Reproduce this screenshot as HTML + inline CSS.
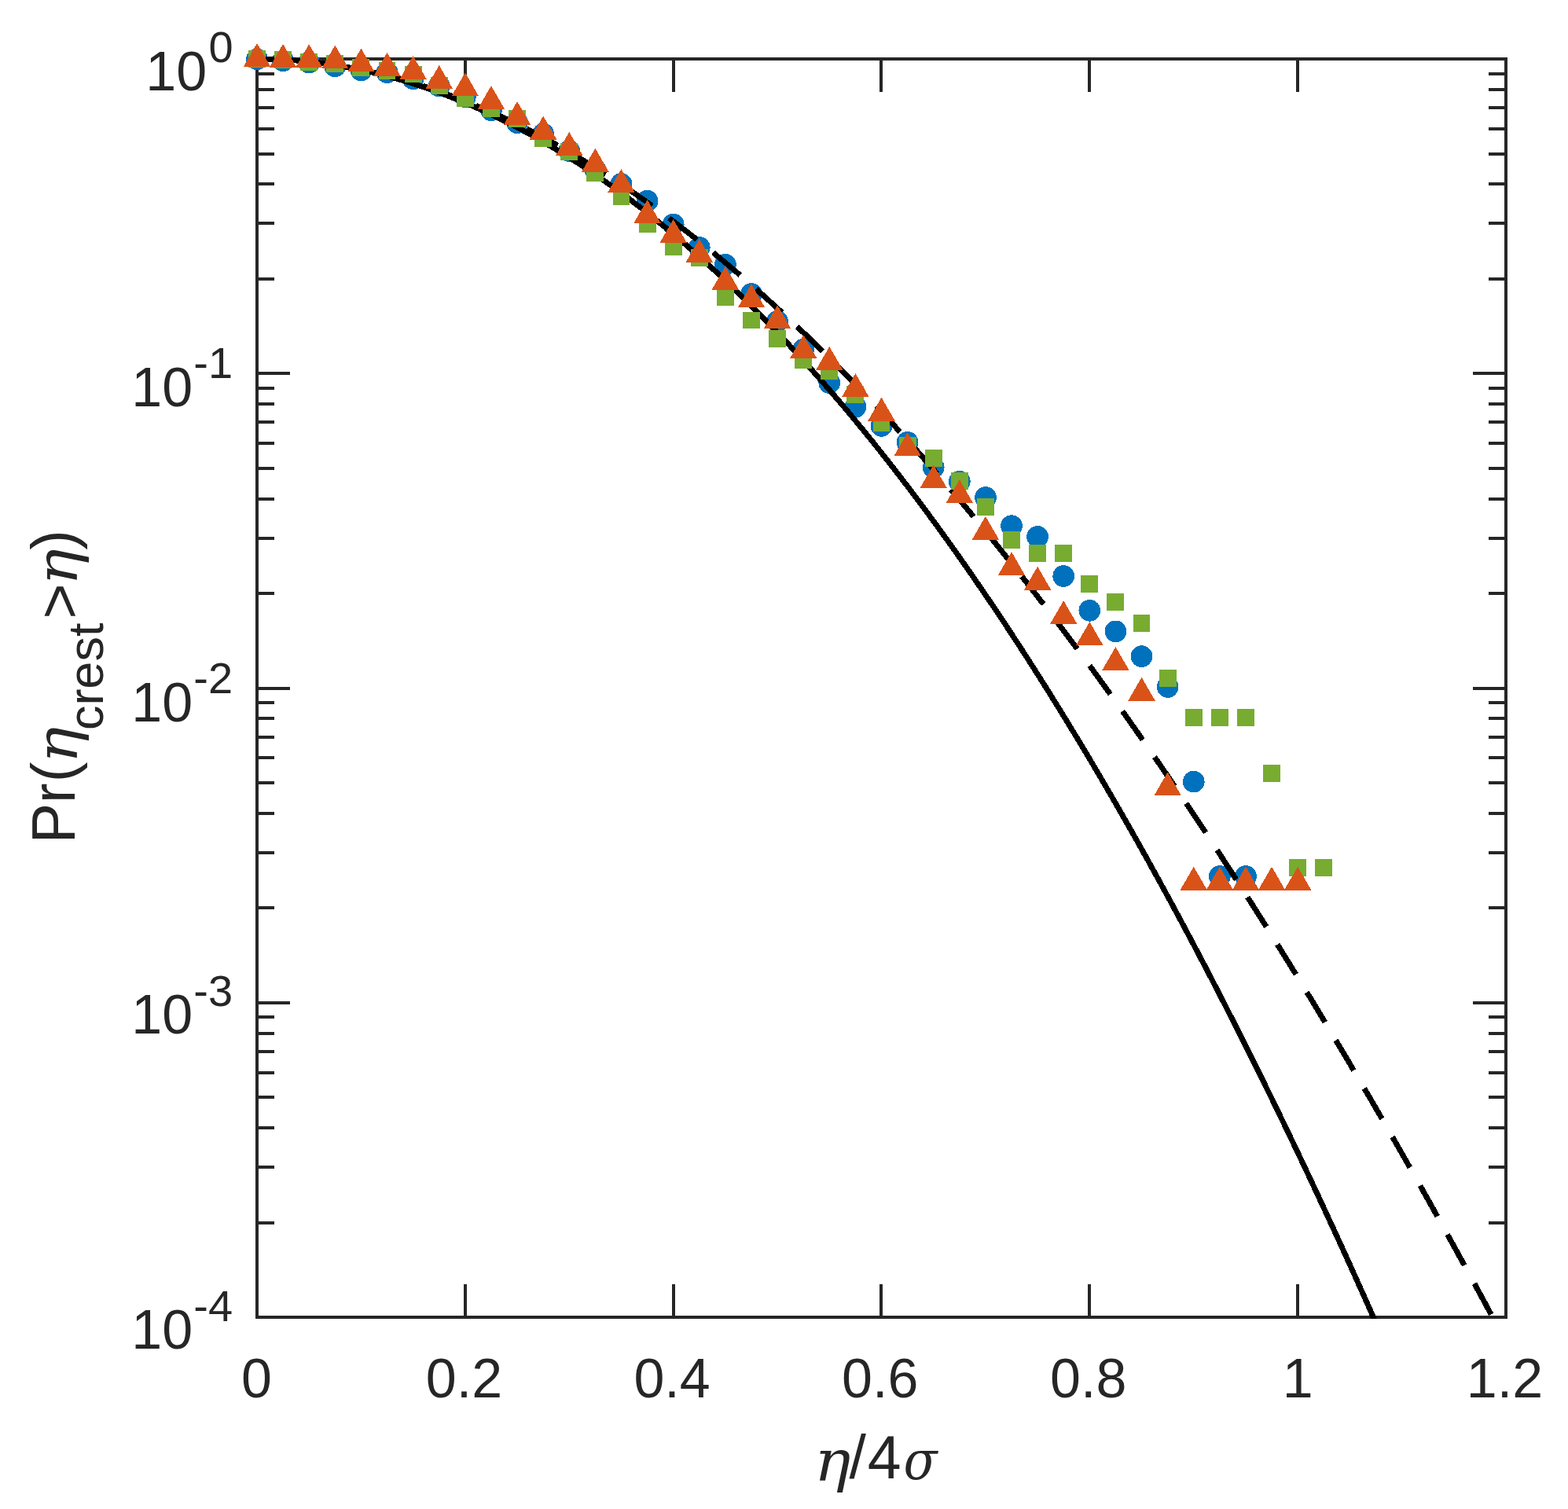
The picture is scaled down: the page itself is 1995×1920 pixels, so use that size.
<!DOCTYPE html>
<html lang="en"><head><meta charset="utf-8"><title>Crest exceedance probability</title>
<style>html,body{margin:0;padding:0;background:#fff}body{width:1995px;height:1920px;overflow:hidden}svg{display:block}text{font-family:"Liberation Sans",sans-serif;fill:#262626}.g{font-family:"DejaVu Serif","Liberation Serif",serif;font-style:italic}</style>
</head><body>
<svg width="1995" height="1920" viewBox="0 0 1995 1920" role="img" aria-label="Crest exceedance probability plot">
<rect width="1995" height="1920" fill="#fff"/>
<defs><clipPath id="c"><rect x="323" y="71" width="1597" height="1607"/></clipPath></defs>
<g fill="none" stroke="#262626" stroke-width="4">
<path d="M592 1676v-42M592 75v42M857 1676v-42M857 75v42M1121 1676v-42M1121 75v42M1386 1676v-42M1386 75v42M1651 1676v-42M1651 75v42M327 475h42M1916 475h-42M327 355h22M1916 355h-22M327 284h22M1916 284h-22M327 234h22M1916 234h-22M327 196h22M1916 196h-22M327 164h22M1916 164h-22M327 137h22M1916 137h-22M327 114h22M1916 114h-22M327 94h22M1916 94h-22M327 876h42M1916 876h-42M327 755h22M1916 755h-22M327 685h22M1916 685h-22M327 635h22M1916 635h-22M327 596h22M1916 596h-22M327 564h22M1916 564h-22M327 537h22M1916 537h-22M327 514h22M1916 514h-22M327 494h22M1916 494h-22M327 1276h42M1916 1276h-42M327 1155h22M1916 1155h-22M327 1085h22M1916 1085h-22M327 1035h22M1916 1035h-22M327 996h22M1916 996h-22M327 964h22M1916 964h-22M327 938h22M1916 938h-22M327 914h22M1916 914h-22M327 894h22M1916 894h-22M327 1556h22M1916 1556h-22M327 1485h22M1916 1485h-22M327 1435h22M1916 1435h-22M327 1396h22M1916 1396h-22M327 1365h22M1916 1365h-22M327 1338h22M1916 1338h-22M327 1315h22M1916 1315h-22M327 1294h22M1916 1294h-22"/>
<rect x="327" y="75" width="1589" height="1601"/>
</g>
<g font-size="70" text-anchor="middle">
<text x="326.4" y="1778">0</text>
<text x="590.43" y="1778">0.2</text>
<text x="855.07" y="1778">0.4</text>
<text x="1119.7" y="1778">0.6</text>
<text x="1384.73" y="1778">0.8</text>
<text x="1651.27" y="1778">1</text>
<text x="1914.5" y="1778">1.2</text>
</g>
<text font-size="70" text-anchor="end" x="263.2" y="115">10<tspan font-size="56" text-anchor="start" x="265.6" y="79.4">0</tspan></text>
<text font-size="70" text-anchor="end" x="245.1" y="517.05">10<tspan font-size="56" text-anchor="start" x="246.3" y="481.45">-1</tspan></text>
<text font-size="70" text-anchor="end" x="245.1" y="918">10<tspan font-size="56" text-anchor="start" x="246.3" y="882.4">-2</tspan></text>
<text font-size="70" text-anchor="end" x="245.1" y="1315.2">10<tspan font-size="56" text-anchor="start" x="246.3" y="1279.6">-3</tspan></text>
<text font-size="70" text-anchor="end" x="245.1" y="1716.3">10<tspan font-size="56" text-anchor="start" x="246.3" y="1680.7">-4</tspan></text>
<text><tspan class="g" font-size="73" x="1036" y="1883.6" textLength="46.35" lengthAdjust="spacingAndGlyphs">η</tspan><tspan font-size="77" x="1080.5 1103.8" y="1881.1">/4</tspan><tspan class="g" font-size="70" x="1149.6" y="1882.4" textLength="43.03" lengthAdjust="spacingAndGlyphs">σ</tspan></text>
<text transform="translate(95 1066.7) rotate(-90)"><tspan font-size="77" x="-6.6 44.6 71.4" y="0">Pr(</tspan><tspan class="g" font-size="73" x="95.4" y="2.5" textLength="46.35" lengthAdjust="spacingAndGlyphs">η</tspan><tspan font-size="63" x="137.6" y="36.3">crest</tspan><tspan font-size="77" x="279.2" y="6.5">&gt;</tspan><tspan class="g" font-size="73" x="322" y="2.5" textLength="46.35" lengthAdjust="spacingAndGlyphs">η</tspan><tspan font-size="77" x="366.9" y="0">)</tspan></text>
<g fill="#0072BD" shape-rendering="crispEdges">
<circle cx="327" cy="75.3" r="13.85"/>
<circle cx="360.1" cy="77.3" r="13.85"/>
<circle cx="393.21" cy="79.6" r="13.85"/>
<circle cx="426.31" cy="84.3" r="13.85"/>
<circle cx="459.42" cy="89.4" r="13.85"/>
<circle cx="492.52" cy="92.2" r="13.85"/>
<circle cx="525.62" cy="100.3" r="13.85"/>
<circle cx="558.73" cy="109.5" r="13.85"/>
<circle cx="591.83" cy="123.3" r="13.85"/>
<circle cx="624.94" cy="140.3" r="13.85"/>
<circle cx="658.04" cy="156.2" r="13.85"/>
<circle cx="691.15" cy="170.3" r="13.85"/>
<circle cx="724.25" cy="192" r="13.85"/>
<circle cx="757.35" cy="215.7" r="13.85"/>
<circle cx="790.46" cy="234" r="13.85"/>
<circle cx="823.56" cy="255.6" r="13.85"/>
<circle cx="856.67" cy="285.5" r="13.85"/>
<circle cx="889.77" cy="314.9" r="13.85"/>
<circle cx="922.88" cy="336.7" r="13.85"/>
<circle cx="955.98" cy="373.9" r="13.85"/>
<circle cx="989.08" cy="409" r="13.85"/>
<circle cx="1022.19" cy="444.6" r="13.85"/>
<circle cx="1055.29" cy="487.2" r="13.85"/>
<circle cx="1088.4" cy="517.7" r="13.85"/>
<circle cx="1121.5" cy="541.9" r="13.85"/>
<circle cx="1154.6" cy="562.8" r="13.85"/>
<circle cx="1187.71" cy="594.8" r="13.85"/>
<circle cx="1220.81" cy="612.8" r="13.85"/>
<circle cx="1253.92" cy="633" r="13.85"/>
<circle cx="1287.02" cy="669.2" r="13.85"/>
<circle cx="1320.12" cy="682.9" r="13.85"/>
<circle cx="1353.23" cy="733" r="13.85"/>
<circle cx="1386.33" cy="776.8" r="13.85"/>
<circle cx="1419.44" cy="803.4" r="13.85"/>
<circle cx="1452.54" cy="835.1" r="13.85"/>
<circle cx="1485.65" cy="874" r="13.85"/>
<circle cx="1518.75" cy="994.6" r="13.85"/>
<circle cx="1551.85" cy="1115" r="13.85"/>
<circle cx="1584.96" cy="1115" r="13.85"/>
</g>
<g fill="none" stroke="#000" stroke-width="7" clip-path="url(#c)" shape-rendering="crispEdges">
<path d="M326.6 75L329.25 75.01L331.9 75.02L334.55 75.05L337.19 75.09L339.84 75.14L342.49 75.2L345.14 75.27L347.79 75.36L350.44 75.45L353.08 75.56L355.73 75.67L358.38 75.8L361.03 75.94L363.68 76.09L366.33 76.25L368.97 76.42L371.62 76.61L374.27 76.8L376.92 77.01L379.57 77.22L382.22 77.45L384.86 77.69L387.51 77.94L390.16 78.2L392.81 78.48L395.46 78.76L398.11 79.06L400.75 79.36L403.4 79.68L406.05 80.01L408.7 80.35L411.35 80.7L414 81.06L416.64 81.43L419.29 81.81L421.94 82.21L424.59 82.61L427.24 83.03L429.89 83.46L432.53 83.9L435.18 84.35L437.83 84.81L440.48 85.28L443.13 85.77L445.78 86.26L448.42 86.77L451.07 87.29L453.72 87.82L456.37 88.36L459.02 88.91L461.67 89.47L464.31 90.04L466.96 90.62L469.61 91.22L472.26 91.83L474.91 92.44L477.56 93.07L480.2 93.71L482.85 94.36L485.5 95.02L488.15 95.7L490.8 96.38L493.45 97.08L496.09 97.78L498.74 98.5L501.39 99.23L504.04 99.97L506.69 100.72L509.34 101.48L511.98 102.26L514.63 103.04L517.28 103.84L519.93 104.64L522.58 105.46L525.23 106.29L527.87 107.13L530.52 107.98L533.17 108.84L535.82 109.72L538.47 110.6L541.12 111.5L543.76 112.4L546.41 113.32L549.06 114.25L551.71 115.19L554.36 116.14L557 117.1L559.65 118.08L562.3 119.06L564.95 120.06L567.6 121.06L570.25 122.08L572.9 123.11L575.54 124.15L578.19 125.2L580.84 126.26L583.49 127.34L586.14 128.42L588.78 129.52L591.43 130.62L594.08 131.74L596.73 132.87L599.38 134.01L602.03 135.16L604.68 136.33L607.32 137.5L609.97 138.68L612.62 139.88L615.27 141.09L617.92 142.31L620.56 143.53L623.21 144.78L625.86 146.03L628.51 147.29L631.16 148.56L633.81 149.85L636.46 151.14L639.1 152.45L641.75 153.77L644.4 155.1L647.05 156.44L649.7 157.79L652.35 159.15L654.99 160.53L657.64 161.91L660.29 163.31L662.94 164.72L665.59 166.14L668.24 167.56L670.88 169.01L673.53 170.46L676.18 171.92L678.83 173.39L681.48 174.88L684.13 176.38L686.77 177.88L689.42 179.4L692.07 180.93L694.72 182.47L697.37 184.02L700.01 185.59L702.66 187.16L705.31 188.75L707.96 190.34L710.61 191.95L713.26 193.57L715.91 195.2L718.55 196.84L721.2 198.49L723.85 200.15L726.5 201.83L729.15 203.51L731.79 205.21L734.44 206.92L737.09 208.64L739.74 210.37L742.39 212.11L745.04 213.86L747.69 215.62L750.33 217.4L752.98 219.18L755.63 220.98L758.28 222.79L760.93 224.61L763.58 226.44L766.22 228.28L768.87 230.13L771.52 231.99L774.17 233.87L776.82 235.75L779.47 237.65L782.11 239.56L784.76 241.48L787.41 243.41L790.06 245.35L792.71 247.3L795.36 249.27L798 251.24L800.65 253.23L803.3 255.22L805.95 257.23L808.6 259.25L811.25 261.28L813.89 263.32L816.54 265.37L819.19 267.44L821.84 269.51L824.49 271.6L827.13 273.7L829.78 275.8L832.43 277.92L835.08 280.05L837.73 282.2L840.38 284.35L843.03 286.51L845.67 288.69L848.32 290.87L850.97 293.07L853.62 295.28L856.27 297.5L858.91 299.73L861.56 301.97L864.21 304.22L866.86 306.49L869.51 308.76L872.16 311.05L874.81 313.35L877.45 315.65L880.1 317.97L882.75 320.3L885.4 322.65L888.05 325L890.7 327.36L893.34 329.74L895.99 332.12L898.64 334.52L901.29 336.93L903.94 339.35L906.59 341.78L909.23 344.22L911.88 346.68L914.53 349.14L917.18 351.61L919.83 354.1L922.48 356.6L925.12 359.11L927.77 361.63L930.42 364.16L933.07 366.7L935.72 369.25L938.37 371.82L941.01 374.39L943.66 376.98L946.31 379.58L948.96 382.19L951.61 384.81L954.25 387.44L956.9 390.08L959.55 392.73L962.2 395.4L964.85 398.07L967.5 400.76L970.14 403.46L972.79 406.17L975.44 408.89L978.09 411.62L980.74 414.36L983.39 417.11L986.04 419.88L988.68 422.65L991.33 425.44L993.98 428.24L996.63 431.05L999.28 433.87L1001.93 436.7L1004.57 439.54L1007.22 442.39L1009.87 445.26L1012.52 448.13L1015.17 451.02L1017.82 453.92L1020.46 456.83L1023.11 459.75L1025.76 462.68L1028.41 465.62L1031.06 468.58L1033.7 471.54L1036.35 474.52L1039 477.5L1041.65 480.5L1044.3 483.51L1046.95 486.53L1049.59 489.56L1052.24 492.61L1054.89 495.66L1057.54 498.72L1060.19 501.8L1062.84 504.89L1065.49 507.99L1068.13 511.1L1070.78 514.22L1073.43 517.35L1076.08 520.49L1078.73 523.64L1081.38 526.81L1084.02 529.99L1086.67 533.17L1089.32 536.37L1091.97 539.58L1094.62 542.8L1097.26 546.03L1099.91 549.28L1102.56 552.53L1105.21 555.8L1107.86 559.07L1110.51 562.36L1113.15 565.66L1115.8 568.97L1118.45 572.29L1121.1 575.62L1123.75 578.96L1126.4 582.32L1129.05 585.68L1131.69 589.06L1134.34 592.45L1136.99 595.84L1139.64 599.25L1142.29 602.68L1144.93 606.11L1147.58 609.55L1150.23 613.01L1152.88 616.47L1155.53 619.95L1158.18 623.43L1160.82 626.93L1163.47 630.44L1166.12 633.96L1168.77 637.5L1171.42 641.04L1174.07 644.59L1176.72 648.16L1179.36 651.74L1182.01 655.32L1184.66 658.92L1187.31 662.53L1189.96 666.15L1192.6 669.79L1195.25 673.43L1197.9 677.08L1200.55 680.75L1203.2 684.43L1205.85 688.11L1208.49 691.81L1211.14 695.52L1213.79 699.25L1216.44 702.98L1219.09 706.72L1221.74 710.48L1224.38 714.24L1227.03 718.02L1229.68 721.81L1232.33 725.61L1234.98 729.42L1237.63 733.24L1240.27 737.07L1242.92 740.91L1245.57 744.77L1248.22 748.63L1250.87 752.51L1253.52 756.4L1256.16 760.3L1258.81 764.21L1261.46 768.13L1264.11 772.06L1266.76 776.01L1269.41 779.96L1272.05 783.93L1274.7 787.91L1277.35 791.89L1280 795.89L1282.65 799.9L1285.3 803.92L1287.94 807.96L1290.59 812L1293.24 816.06L1295.89 820.12L1298.54 824.2L1301.19 828.29L1303.84 832.39L1306.48 836.5L1309.13 840.62L1311.78 844.75L1314.43 848.9L1317.08 853.05L1319.72 857.22L1322.37 861.4L1325.02 865.58L1327.67 869.78L1330.32 873.99L1332.97 878.22L1335.62 882.45L1338.26 886.69L1340.91 890.95L1343.56 895.22L1346.21 899.49L1348.86 903.78L1351.5 908.08L1354.15 912.39L1356.8 916.71L1359.45 921.05L1362.1 925.39L1364.75 929.75L1367.39 934.11L1370.04 938.49L1372.69 942.88L1375.34 947.28L1377.99 951.69L1380.64 956.11L1383.28 960.55L1385.93 964.99L1388.58 969.45L1391.23 973.91L1393.88 978.39L1396.53 982.88L1399.17 987.38L1401.82 991.89L1404.47 996.41L1407.12 1000.95L1409.77 1005.49L1412.42 1010.05L1415.06 1014.61L1417.71 1019.19L1420.36 1023.78L1423.01 1028.38L1425.66 1032.99L1428.31 1037.61L1430.95 1042.25L1433.6 1046.89L1436.25 1051.55L1438.9 1056.22L1441.55 1060.89L1444.2 1065.58L1446.85 1070.28L1449.49 1074.99L1452.14 1079.72L1454.79 1084.45L1457.44 1089.19L1460.09 1093.95L1462.73 1098.72L1465.38 1103.5L1468.03 1108.29L1470.68 1113.09L1473.33 1117.9L1475.98 1122.72L1478.62 1127.55L1481.27 1132.4L1483.92 1137.25L1486.57 1142.12L1489.22 1147L1491.87 1151.89L1494.51 1156.79L1497.16 1161.7L1499.81 1166.62L1502.46 1171.56L1505.11 1176.5L1507.76 1181.46L1510.4 1186.43L1513.05 1191.4L1515.7 1196.39L1518.35 1201.39L1521 1206.41L1523.65 1211.43L1526.3 1216.46L1528.94 1221.51L1531.59 1226.56L1534.24 1231.63L1536.89 1236.71L1539.54 1241.8L1542.18 1246.9L1544.83 1252.01L1547.48 1257.14L1550.13 1262.27L1552.78 1267.42L1555.43 1272.57L1558.08 1277.74L1560.72 1282.92L1563.37 1288.11L1566.02 1293.31L1568.67 1298.52L1571.32 1303.74L1573.96 1308.98L1576.61 1314.22L1579.26 1319.48L1581.91 1324.75L1584.56 1330.03L1587.21 1335.32L1589.86 1340.62L1592.5 1345.93L1595.15 1351.25L1597.8 1356.59L1600.45 1361.93L1603.1 1367.29L1605.75 1372.66L1608.39 1378.04L1611.04 1383.43L1613.69 1388.83L1616.34 1394.24L1618.99 1399.66L1621.63 1405.1L1624.28 1410.54L1626.93 1416L1629.58 1421.47L1632.23 1426.95L1634.88 1432.44L1637.52 1437.94L1640.17 1443.45L1642.82 1448.97L1645.47 1454.51L1648.12 1460.05L1650.77 1465.61L1653.41 1471.18L1656.06 1476.76L1658.71 1482.35L1661.36 1487.95L1664.01 1493.56L1666.66 1499.19L1669.31 1504.82L1671.95 1510.47L1674.6 1516.12L1677.25 1521.79L1679.9 1527.47L1682.55 1533.16L1685.19 1538.86L1687.84 1544.58L1690.49 1550.3L1693.14 1556.03L1695.79 1561.78L1698.44 1567.54L1701.09 1573.31L1703.73 1579.08L1706.38 1584.88L1709.03 1590.68L1711.68 1596.49L1714.33 1602.31L1716.98 1608.15L1719.62 1613.99L1722.27 1619.85L1724.92 1625.72L1727.57 1631.6L1730.22 1637.49L1732.86 1643.39L1735.51 1649.31L1738.16 1655.23L1740.81 1661.16L1743.46 1667.11L1746.11 1673.07L1748.76 1679.04L1751.4 1685.02L1754.05 1691.01L1756.7 1697.01L1759.35 1703.02L1762 1709.05L1764.64 1715.08L1767.29 1721.13L1769.94 1727.18L1772.59 1733.25"/>
<path stroke-dasharray="44.7 26.6" stroke-dashoffset="-1.7" d="M326.6 75L329.25 75.01L331.9 75.02L334.55 75.05L337.19 75.09L339.84 75.14L342.49 75.2L345.14 75.27L347.79 75.35L350.44 75.45L353.08 75.55L355.73 75.67L358.38 75.8L361.03 75.94L363.68 76.08L366.33 76.24L368.97 76.41L371.62 76.6L374.27 76.79L376.92 76.99L379.57 77.21L382.22 77.43L384.86 77.67L387.51 77.92L390.16 78.17L392.81 78.44L395.46 78.72L398.11 79.01L400.75 79.31L403.4 79.62L406.05 79.95L408.7 80.28L411.35 80.62L414 80.98L416.64 81.34L419.29 81.72L421.94 82.11L424.59 82.5L427.24 82.91L429.89 83.33L432.53 83.76L435.18 84.2L437.83 84.65L440.48 85.11L443.13 85.58L445.78 86.07L448.42 86.56L451.07 87.06L453.72 87.58L456.37 88.1L459.02 88.64L461.67 89.18L464.31 89.74L466.96 90.3L469.61 90.88L472.26 91.47L474.91 92.07L477.56 92.67L480.2 93.29L482.85 93.92L485.5 94.56L488.15 95.21L490.8 95.87L493.45 96.54L496.09 97.22L498.74 97.91L501.39 98.61L504.04 99.33L506.69 100.05L509.34 100.78L511.98 101.52L514.63 102.27L517.28 103.04L519.93 103.81L522.58 104.59L525.23 105.39L527.87 106.19L530.52 107.01L533.17 107.83L535.82 108.66L538.47 109.51L541.12 110.36L543.76 111.23L546.41 112.1L549.06 112.99L551.71 113.88L554.36 114.79L557 115.7L559.65 116.63L562.3 117.57L564.95 118.51L567.6 119.47L570.25 120.43L572.9 121.41L575.54 122.39L578.19 123.39L580.84 124.39L583.49 125.41L586.14 126.43L588.78 127.47L591.43 128.51L594.08 129.57L596.73 130.64L599.38 131.71L602.03 132.79L604.68 133.89L607.32 134.99L609.97 136.11L612.62 137.23L615.27 138.37L617.92 139.51L620.56 140.66L623.21 141.83L625.86 143L628.51 144.18L631.16 145.38L633.81 146.58L636.46 147.79L639.1 149.01L641.75 150.25L644.4 151.49L647.05 152.74L649.7 154L652.35 155.27L654.99 156.55L657.64 157.84L660.29 159.14L662.94 160.45L665.59 161.77L668.24 163.1L670.88 164.43L673.53 165.78L676.18 167.14L678.83 168.51L681.48 169.88L684.13 171.27L686.77 172.66L689.42 174.07L692.07 175.48L694.72 176.91L697.37 178.34L700.01 179.78L702.66 181.24L705.31 182.7L707.96 184.17L710.61 185.65L713.26 187.14L715.91 188.64L718.55 190.15L721.2 191.67L723.85 193.2L726.5 194.74L729.15 196.28L731.79 197.84L734.44 199.4L737.09 200.98L739.74 202.56L742.39 204.16L745.04 205.76L747.69 207.37L750.33 208.99L752.98 210.62L755.63 212.26L758.28 213.91L760.93 215.57L763.58 217.24L766.22 218.92L768.87 220.6L771.52 222.3L774.17 224L776.82 225.72L779.47 227.44L782.11 229.17L784.76 230.92L787.41 232.67L790.06 234.43L792.71 236.2L795.36 237.97L798 239.76L800.65 241.56L803.3 243.36L805.95 245.18L808.6 247L811.25 248.83L813.89 250.68L816.54 252.53L819.19 254.39L821.84 256.26L824.49 258.13L827.13 260.02L829.78 261.92L832.43 263.82L835.08 265.74L837.73 267.66L840.38 269.59L843.03 271.53L845.67 273.48L848.32 275.44L850.97 277.41L853.62 279.39L856.27 281.37L858.91 283.37L861.56 285.37L864.21 287.38L866.86 289.41L869.51 291.44L872.16 293.48L874.81 295.52L877.45 297.58L880.1 299.65L882.75 301.72L885.4 303.8L888.05 305.9L890.7 308L893.34 310.11L895.99 312.23L898.64 314.35L901.29 316.49L903.94 318.63L906.59 320.79L909.23 322.95L911.88 325.12L914.53 327.3L917.18 329.49L919.83 331.69L922.48 333.89L925.12 336.11L927.77 338.33L930.42 340.56L933.07 342.8L935.72 345.05L938.37 347.31L941.01 349.58L943.66 351.85L946.31 354.14L948.96 356.43L951.61 358.73L954.25 361.04L956.9 363.36L959.55 365.68L962.2 368.02L964.85 370.36L967.5 372.72L970.14 375.08L972.79 377.45L975.44 379.82L978.09 382.21L980.74 384.61L983.39 387.01L986.04 389.42L988.68 391.84L991.33 394.27L993.98 396.71L996.63 399.15L999.28 401.61L1001.93 404.07L1004.57 406.54L1007.22 409.02L1009.87 411.51L1012.52 414.01L1015.17 416.51L1017.82 419.03L1020.46 421.55L1023.11 424.08L1025.76 426.62L1028.41 429.16L1031.06 431.72L1033.7 434.28L1036.35 436.85L1039 439.43L1041.65 442.02L1044.3 444.62L1046.95 447.22L1049.59 449.84L1052.24 452.46L1054.89 455.09L1057.54 457.73L1060.19 460.37L1062.84 463.03L1065.49 465.69L1068.13 468.36L1070.78 471.04L1073.43 473.73L1076.08 476.42L1078.73 479.13L1081.38 481.84L1084.02 484.56L1086.67 487.29L1089.32 490.03L1091.97 492.77L1094.62 495.52L1097.26 498.28L1099.91 501.05L1102.56 503.83L1105.21 506.62L1107.86 509.41L1110.51 512.21L1113.15 515.02L1115.8 517.84L1118.45 520.67L1121.1 523.5L1123.75 526.34L1126.4 529.19L1129.05 532.05L1131.69 534.92L1134.34 537.79L1136.99 540.68L1139.64 543.57L1142.29 546.46L1144.93 549.37L1147.58 552.29L1150.23 555.21L1152.88 558.14L1155.53 561.08L1158.18 564.02L1160.82 566.98L1163.47 569.94L1166.12 572.91L1168.77 575.89L1171.42 578.87L1174.07 581.87L1176.72 584.87L1179.36 587.88L1182.01 590.9L1184.66 593.92L1187.31 596.96L1189.96 600L1192.6 603.05L1195.25 606.11L1197.9 609.17L1200.55 612.24L1203.2 615.32L1205.85 618.41L1208.49 621.51L1211.14 624.61L1213.79 627.73L1216.44 630.85L1219.09 633.97L1221.74 637.11L1224.38 640.25L1227.03 643.4L1229.68 646.56L1232.33 649.73L1234.98 652.9L1237.63 656.08L1240.27 659.27L1242.92 662.47L1245.57 665.68L1248.22 668.89L1250.87 672.11L1253.52 675.34L1256.16 678.57L1258.81 681.82L1261.46 685.07L1264.11 688.33L1266.76 691.59L1269.41 694.87L1272.05 698.15L1274.7 701.44L1277.35 704.74L1280 708.04L1282.65 711.36L1285.3 714.68L1287.94 718L1290.59 721.34L1293.24 724.68L1295.89 728.03L1298.54 731.39L1301.19 734.76L1303.84 738.13L1306.48 741.51L1309.13 744.9L1311.78 748.3L1314.43 751.7L1317.08 755.11L1319.72 758.53L1322.37 761.95L1325.02 765.39L1327.67 768.83L1330.32 772.28L1332.97 775.73L1335.62 779.2L1338.26 782.67L1340.91 786.15L1343.56 789.63L1346.21 793.13L1348.86 796.63L1351.5 800.14L1354.15 803.65L1356.8 807.17L1359.45 810.7L1362.1 814.24L1364.75 817.79L1367.39 821.34L1370.04 824.9L1372.69 828.47L1375.34 832.04L1377.99 835.63L1380.64 839.22L1383.28 842.81L1385.93 846.42L1388.58 850.03L1391.23 853.65L1393.88 857.28L1396.53 860.91L1399.17 864.55L1401.82 868.2L1404.47 871.85L1407.12 875.52L1409.77 879.19L1412.42 882.87L1415.06 886.55L1417.71 890.24L1420.36 893.94L1423.01 897.65L1425.66 901.36L1428.31 905.08L1430.95 908.81L1433.6 912.55L1436.25 916.29L1438.9 920.04L1441.55 923.8L1444.2 927.56L1446.85 931.34L1449.49 935.11L1452.14 938.9L1454.79 942.69L1457.44 946.49L1460.09 950.3L1462.73 954.12L1465.38 957.94L1468.03 961.77L1470.68 965.61L1473.33 969.45L1475.98 973.3L1478.62 977.16L1481.27 981.02L1483.92 984.89L1486.57 988.77L1489.22 992.66L1491.87 996.55L1494.51 1000.45L1497.16 1004.36L1499.81 1008.28L1502.46 1012.2L1505.11 1016.13L1507.76 1020.06L1510.4 1024L1513.05 1027.95L1515.7 1031.91L1518.35 1035.88L1521 1039.85L1523.65 1043.82L1526.3 1047.81L1528.94 1051.8L1531.59 1055.8L1534.24 1059.81L1536.89 1063.82L1539.54 1067.84L1542.18 1071.87L1544.83 1075.9L1547.48 1079.94L1550.13 1083.99L1552.78 1088.04L1555.43 1092.11L1558.08 1096.17L1560.72 1100.25L1563.37 1104.33L1566.02 1108.42L1568.67 1112.52L1571.32 1116.62L1573.96 1120.73L1576.61 1124.85L1579.26 1128.97L1581.91 1133.1L1584.56 1137.24L1587.21 1141.39L1589.86 1145.54L1592.5 1149.7L1595.15 1153.86L1597.8 1158.03L1600.45 1162.21L1603.1 1166.4L1605.75 1170.59L1608.39 1174.79L1611.04 1179L1613.69 1183.21L1616.34 1187.43L1618.99 1191.66L1621.63 1195.89L1624.28 1200.13L1626.93 1204.38L1629.58 1208.63L1632.23 1212.89L1634.88 1217.16L1637.52 1221.44L1640.17 1225.72L1642.82 1230L1645.47 1234.3L1648.12 1238.6L1650.77 1242.91L1653.41 1247.22L1656.06 1251.54L1658.71 1255.87L1661.36 1260.21L1664.01 1264.55L1666.66 1268.9L1669.31 1273.25L1671.95 1277.61L1674.6 1281.98L1677.25 1286.36L1679.9 1290.74L1682.55 1295.13L1685.19 1299.52L1687.84 1303.92L1690.49 1308.33L1693.14 1312.75L1695.79 1317.17L1698.44 1321.6L1701.09 1326.03L1703.73 1330.47L1706.38 1334.92L1709.03 1339.38L1711.68 1343.84L1714.33 1348.31L1716.98 1352.78L1719.62 1357.26L1722.27 1361.75L1724.92 1366.24L1727.57 1370.74L1730.22 1375.25L1732.86 1379.77L1735.51 1384.29L1738.16 1388.81L1740.81 1393.35L1743.46 1397.89L1746.11 1402.43L1748.76 1406.99L1751.4 1411.55L1754.05 1416.11L1756.7 1420.69L1759.35 1425.27L1762 1429.85L1764.64 1434.44L1767.29 1439.04L1769.94 1443.65L1772.59 1448.26L1775.24 1452.88L1777.89 1457.5L1780.53 1462.13L1783.18 1466.77L1785.83 1471.42L1788.48 1476.07L1791.13 1480.72L1793.78 1485.39L1796.43 1490.06L1799.07 1494.73L1801.72 1499.41L1804.37 1504.1L1807.02 1508.8L1809.67 1513.5L1812.31 1518.21L1814.96 1522.92L1817.61 1527.65L1820.26 1532.37L1822.91 1537.11L1825.56 1541.85L1828.2 1546.59L1830.85 1551.35L1833.5 1556.11L1836.15 1560.87L1838.8 1565.64L1841.45 1570.42L1844.1 1575.21L1846.74 1580L1849.39 1584.79L1852.04 1589.6L1854.69 1594.41L1857.34 1599.22L1859.98 1604.05L1862.63 1608.88L1865.28 1613.71L1867.93 1618.55L1870.58 1623.4L1873.23 1628.25L1875.88 1633.12L1878.52 1637.98L1881.17 1642.85L1883.82 1647.73L1886.47 1652.62L1889.12 1657.51L1891.76 1662.41L1894.41 1667.31L1897.06 1672.22L1899.71 1677.14L1902.36 1682.06L1905.01 1686.99L1907.65 1691.93L1910.3 1696.87L1912.95 1701.82L1915.6 1706.77"/>
</g>
<g fill="#77AC30" shape-rendering="crispEdges">
<rect x="316.05" y="64.1" width="21.9" height="21.9"/>
<rect x="349.15" y="65.15" width="21.9" height="21.9"/>
<rect x="382.26" y="68.15" width="21.9" height="21.9"/>
<rect x="415.36" y="70.15" width="21.9" height="21.9"/>
<rect x="448.47" y="75.05" width="21.9" height="21.9"/>
<rect x="481.57" y="79.05" width="21.9" height="21.9"/>
<rect x="514.67" y="83.55" width="21.9" height="21.9"/>
<rect x="547.78" y="98" width="21.9" height="21.9"/>
<rect x="580.88" y="113.85" width="21.9" height="21.9"/>
<rect x="613.99" y="126.75" width="21.9" height="21.9"/>
<rect x="647.09" y="140.15" width="21.9" height="21.9"/>
<rect x="680.2" y="164.85" width="21.9" height="21.9"/>
<rect x="713.3" y="181.95" width="21.9" height="21.9"/>
<rect x="746.4" y="208.85" width="21.9" height="21.9"/>
<rect x="779.51" y="238.95" width="21.9" height="21.9"/>
<rect x="812.61" y="273.85" width="21.9" height="21.9"/>
<rect x="845.72" y="303.05" width="21.9" height="21.9"/>
<rect x="878.82" y="316.95" width="21.9" height="21.9"/>
<rect x="911.92" y="366.65" width="21.9" height="21.9"/>
<rect x="945.03" y="396.55" width="21.9" height="21.9"/>
<rect x="978.13" y="419.85" width="21.9" height="21.9"/>
<rect x="1011.24" y="446.75" width="21.9" height="21.9"/>
<rect x="1044.34" y="460.85" width="21.9" height="21.9"/>
<rect x="1077.45" y="490.95" width="21.9" height="21.9"/>
<rect x="1110.55" y="526.95" width="21.9" height="21.9"/>
<rect x="1143.65" y="555.75" width="21.9" height="21.9"/>
<rect x="1176.76" y="572.15" width="21.9" height="21.9"/>
<rect x="1209.86" y="601.05" width="21.9" height="21.9"/>
<rect x="1242.97" y="633.95" width="21.9" height="21.9"/>
<rect x="1276.07" y="676.05" width="21.9" height="21.9"/>
<rect x="1309.17" y="692.95" width="21.9" height="21.9"/>
<rect x="1342.28" y="692.95" width="21.9" height="21.9"/>
<rect x="1375.38" y="732.05" width="21.9" height="21.9"/>
<rect x="1408.49" y="755.15" width="21.9" height="21.9"/>
<rect x="1441.59" y="782.05" width="21.9" height="21.9"/>
<rect x="1474.7" y="852.15" width="21.9" height="21.9"/>
<rect x="1507.8" y="901.95" width="21.9" height="21.9"/>
<rect x="1540.9" y="901.95" width="21.9" height="21.9"/>
<rect x="1574.01" y="901.95" width="21.9" height="21.9"/>
<rect x="1607.11" y="973.15" width="21.9" height="21.9"/>
<rect x="1640.22" y="1093.05" width="21.9" height="21.9"/>
<rect x="1673.32" y="1093.05" width="21.9" height="21.9"/>
</g>
<g fill="#D95319" shape-rendering="crispEdges">
<path d="M327 54.97l17.25 29.9h-34.5zM360.1 55.97l17.25 29.9h-34.5zM393.21 56.27l17.25 29.9h-34.5zM426.31 57.57l17.25 29.9h-34.5zM459.42 61.57l17.25 29.9h-34.5zM492.52 66.97l17.25 29.9h-34.5zM525.62 71.07l17.25 29.9h-34.5zM558.73 83.07l17.25 29.9h-34.5zM591.83 92.37l17.25 29.9h-34.5zM624.94 109.07l17.25 29.9h-34.5zM658.04 128.97l17.25 29.9h-34.5zM691.15 147.67l17.25 29.9h-34.5zM724.25 167.97l17.25 29.9h-34.5zM757.35 188.67l17.25 29.9h-34.5zM790.46 215.07l17.25 29.9h-34.5zM823.56 254.07l17.25 29.9h-34.5zM856.67 279.07l17.25 29.9h-34.5zM889.77 303.87l17.25 29.9h-34.5zM922.88 338.77l17.25 29.9h-34.5zM955.98 361.47l17.25 29.9h-34.5zM989.08 388.07l17.25 29.9h-34.5zM1022.19 426.17l17.25 29.9h-34.5zM1055.29 440.97l17.25 29.9h-34.5zM1088.4 475.07l17.25 29.9h-34.5zM1121.5 505.67l17.25 29.9h-34.5zM1154.6 550.37l17.25 29.9h-34.5zM1187.71 591.27l17.25 29.9h-34.5zM1220.81 610.17l17.25 29.9h-34.5zM1253.92 656.87l17.25 29.9h-34.5zM1287.02 702.17l17.25 29.9h-34.5zM1320.12 720.77l17.25 29.9h-34.5zM1353.23 764.17l17.25 29.9h-34.5zM1386.33 791.17l17.25 29.9h-34.5zM1419.44 823.07l17.25 29.9h-34.5zM1452.54 861.77l17.25 29.9h-34.5zM1485.65 982.37l17.25 29.9h-34.5zM1518.75 1102.77l17.25 29.9h-34.5zM1551.85 1102.77l17.25 29.9h-34.5zM1584.96 1102.77l17.25 29.9h-34.5zM1618.06 1102.77l17.25 29.9h-34.5zM1651.17 1102.77l17.25 29.9h-34.5z"/>
</g>
</svg>
</body></html>
